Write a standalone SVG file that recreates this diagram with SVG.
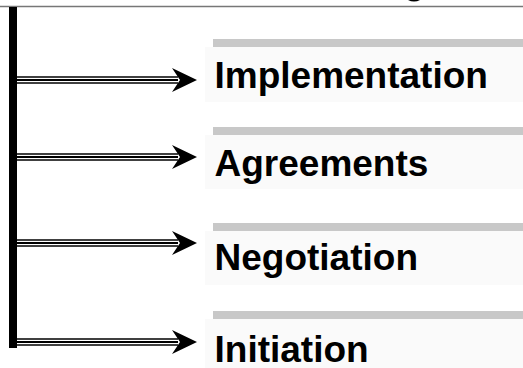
<svg xmlns="http://www.w3.org/2000/svg" width="523" height="368" viewBox="0 0 523 368">
<defs>
<style>
.bar{fill:#c8c8c8}
.box{fill:#fafafa}
.lbl{font-family:"Liberation Sans",Arial,sans-serif;font-weight:bold;font-size:37px;fill:#000}
.l1{stroke:#000;stroke-width:7.5;fill:none}
.l2{stroke:#fff;stroke-width:4.5;fill:none}
.l3{stroke:#000;stroke-width:1.8;fill:none}
.head{fill:#000}
</style>
<g id="arrowShape">
<line class="l1" x1="17" y1="0" x2="178" y2="0"/>
<line class="l2" x1="17" y1="0" x2="178" y2="0"/>
<line class="l3" x1="17" y1="0" x2="178" y2="0"/>
<path class="head" d="M197,0 L172,-12 L180,0 L172,12 Z"/>
</g>
</defs>
<rect width="523" height="368" fill="#fff"/>
<line x1="0" y1="6.5" x2="523" y2="6.5" stroke="#777" stroke-width="1.6"/>
<path d="M408,0 Q414,3 420,0 Z" fill="#000"/>
<rect id="spine" x="9" y="7" width="8" height="341" fill="#000"/>
<g id="n-implementation">
<rect class="bar" x="213" y="39" width="310" height="8"/>
<rect class="box" x="205" y="47" width="318" height="55"/>
<text class="lbl" x="214.5" y="87.5">Implementation</text>
</g>
<g id="n-agreements">
<rect class="bar" x="213" y="127" width="310" height="8"/>
<rect class="box" x="205" y="135" width="318" height="54"/>
<text class="lbl" x="214.5" y="175.5">Agreements</text>
</g>
<g id="n-negotiation">
<rect class="bar" x="213" y="223" width="310" height="8"/>
<rect class="box" x="205" y="231" width="318" height="54"/>
<text class="lbl" x="214.5" y="269.5">Negotiation</text>
</g>
<g id="n-initiation">
<rect class="bar" x="213" y="311" width="310" height="8"/>
<rect class="box" x="205" y="319" width="318" height="54"/>
<text class="lbl" x="214.5" y="361.5">Initiation</text>
</g>
<g id="connectors">
<use href="#arrowShape" y="80"/>
<use href="#arrowShape" y="157"/>
<use href="#arrowShape" y="243"/>
<use href="#arrowShape" y="342"/>
</g>
</svg>
